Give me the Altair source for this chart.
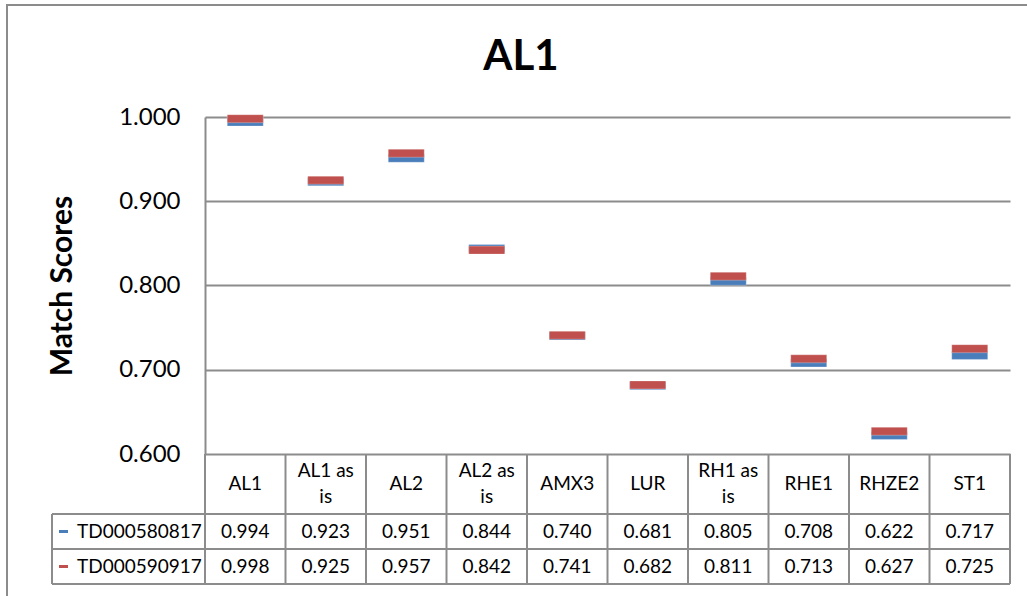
import altair as alt
import pandas as pd

# Categories (table columns) and the two series of match scores
categories = ["AL1", "AL1 as is", "AL2", "AL2 as is", "AMX3", "LUR",
              "RH1 as is", "RHE1", "RHZE2", "ST1"]
series_names = ["TD000580817", "TD000590917"]
scores_td000580817 = [0.994, 0.923, 0.951, 0.844, 0.740, 0.681, 0.805, 0.708, 0.622, 0.717]
scores_td000590917 = [0.998, 0.925, 0.957, 0.842, 0.741, 0.682, 0.811, 0.713, 0.627, 0.725]
y_ticks = [0.6, 0.7, 0.8, 0.9, 1.0]

BLUE = "#4A7EBB"
RED = "#C0504D"
GRID = "#8C8C8C"
FONT = "Lato"

W, PLOT_H, TABLE_H = 805, 337, 130

df = pd.DataFrame({
    "category": categories * 2,
    "header": [c.replace(" as is", " as\nis") for c in categories] * 2,
    "series": [series_names[0]] * len(categories) + [series_names[1]] * len(categories),
    "score": scores_td000580817 + scores_td000590917,
})
df["lines"] = df["header"].str.count("\n") + 1
one = pd.DataFrame({"k": [0]})

x_scale = alt.Scale(domain=categories, paddingInner=0, paddingOuter=0)
x_enc = alt.X("category:N", sort=categories, scale=x_scale, axis=None)
y_scale = alt.Scale(domain=[0.6, 1.0], range=[PLOT_H, 0], nice=False, zero=False)

base = alt.Chart(df)

# Score markers: one short horizontal dash per category and series
def markers(name, color):
    return base.transform_filter(alt.datum.series == name).mark_tick(
        size=36, thickness=8, color=color, opacity=1,
        stroke="white", strokeOpacity=0.35, strokeWidth=0.8
    ).encode(
        x=x_enc,
        y=alt.Y("score:Q", scale=y_scale, axis=alt.Axis(
            values=y_ticks, format=".3f", grid=True, gridColor=GRID, gridWidth=2,
            domainColor=GRID, domainWidth=2, ticks=False,
            labelFont=FONT, labelFontSize=24, labelColor="black", labelPadding=25,
            title="Match Scores", titleFont=FONT, titleFontSize=30,
            titleFontWeight="bold", titleColor="black",
            titleAngle=-90, titleX=-143, titleY=PLOT_H / 2,
            titleAlign="center", titleBaseline="middle",
        )),
    )

blue_marks = markers(series_names[0], BLUE)
red_marks = markers(series_names[1], RED)

# Data table under the plot
row_y = {series_names[0]: 414.5, series_names[1]: 449.5}
HEADER_MID, LINE_H = 367, 26

header_text = [
    base.transform_filter(
        (alt.datum.series == series_names[0]) & (alt.datum.lines == n)
    ).mark_text(
        font=FONT, fontSize=19, color="black", lineBreak="\n", lineHeight=LINE_H,
        baseline="middle", align="center"
    ).encode(x=x_enc, y=alt.value(HEADER_MID - (n - 1) * LINE_H / 2), text="header:N")
    for n in (1, 2)
]

value_text = [
    base.transform_filter(alt.datum.series == s).mark_text(
        font=FONT, fontSize=19, color="black", baseline="middle", align="center"
    ).encode(x=x_enc, y=alt.value(row_y[s]), text=alt.Text("score:Q", format=".3f"))
    for s in series_names
]

col_lines = base.transform_filter(alt.datum.series == series_names[0]).mark_rule(
    color=GRID, strokeWidth=2
).encode(
    x=alt.X("category:N", sort=categories, scale=x_scale, axis=None, bandPosition=0),
    y=alt.value(PLOT_H), y2=alt.value(PLOT_H + TABLE_H),
)

rule = alt.Chart(one).mark_rule(color=GRID, strokeWidth=2)
right_line = rule.encode(x=alt.value(W), y=alt.value(PLOT_H), y2=alt.value(PLOT_H + TABLE_H))
left_line = rule.encode(x=alt.value(-153), y=alt.value(397), y2=alt.value(PLOT_H + TABLE_H))
row_lines = [
    rule.encode(x=alt.value(-153), x2=alt.value(W), y=alt.value(yy))
    for yy in (397, 432, PLOT_H + TABLE_H)
]

legend_keys = [
    alt.Chart(one).mark_rule(color=c, strokeWidth=3).encode(
        x=alt.value(-146), x2=alt.value(-137), y=alt.value(row_y[s])
    )
    for s, c in zip(series_names, [BLUE, RED])
]
legend_names = [
    alt.Chart(one).mark_text(
        text=s, font=FONT, fontSize=19, color="black", align="left", baseline="middle"
    ).encode(x=alt.value(-128), y=alt.value(row_y[s]))
    for s in series_names
]

# Chart heading and outer frame
heading = alt.Chart(one).mark_text(
    text="AL1", font=FONT, fontSize=42, fontWeight="bold", color="black",
    align="center", baseline="alphabetic"
).encode(x=alt.value(316), y=alt.value(-47))

frame = alt.Chart(one).mark_rect(fill=None, stroke=GRID, strokeWidth=2).encode(
    x=alt.value(-198), x2=alt.value(840), y=alt.value(-112), y2=alt.value(500)
)

chart = alt.layer(
    frame, col_lines, right_line, left_line, *row_lines,
    *header_text, *value_text, *legend_keys, *legend_names,
    blue_marks, red_marks, heading,
).properties(
    width=W, height=PLOT_H + TABLE_H,
    padding={"left": 205, "top": 117, "right": 17, "bottom": 12},
    autosize=alt.AutoSizeParams(type="none"),
    background="white",
).configure_view(strokeWidth=0)

chart.save("out.html", embed_options={"renderer": "svg", "actions": False})
